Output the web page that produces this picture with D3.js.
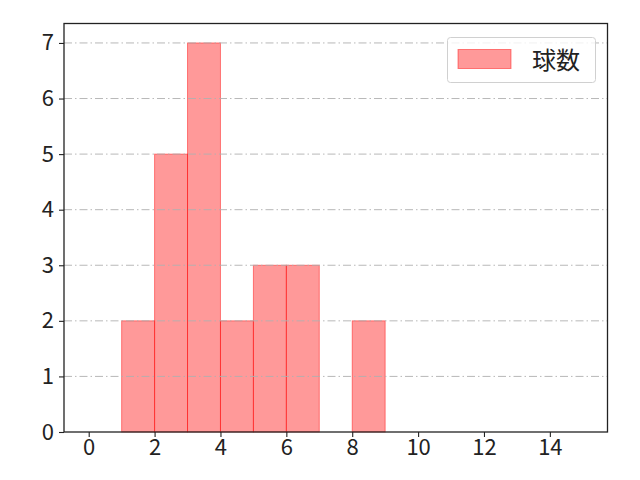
<!DOCTYPE html>
<html>
<head>
  <meta charset='utf-8'>
  <title>球数</title>
  <script src="https://cdnjs.cloudflare.com/ajax/libs/d3/7.8.5/d3.min.js"></script>
  <style>
    body { margin: 0; background: #fff; }
    text { font-family: "Noto Sans CJK JP", sans-serif; }
  </style>
</head>
<body>
  <svg width="640" height="480" id="chart"></svg>
  <script>
    // histogram bins and counts
    const binStarts = [1, 2, 3, 4, 5, 6, 8];
    const counts = [2, 5, 7, 2, 3, 3, 2];
    const xTicks = [0, 2, 4, 6, 8, 10, 12, 14];
    const yTicks = [0, 1, 2, 3, 4, 5, 6, 7];
    const seriesName = '球数';

    const margin = {top: 23.5, right: 32.5, bottom: 48, left: 64};
    const width = 640, height = 480;

    const svg = d3.select('#chart');

    const x = d3.scaleLinear().domain([-0.75, 15.75]).range([margin.left, width - margin.right]);
    const y = d3.scaleLinear().domain([0, 7.35]).range([height - margin.bottom, margin.top]);

    // bars
    svg.append('g')
      .selectAll('rect')
      .data(counts)
      .join('rect')
      .attr('x', (d, i) => x(binStarts[i]))
      .attr('width', (d, i) => x(binStarts[i] + 1) - x(binStarts[i]))
      .attr('y', d => y(d))
      .attr('height', d => y(0) - y(d))
      .attr('fill', 'rgba(255,0,0,0.4)')
      .attr('stroke', 'rgba(255,0,0,0.45)')
      .attr('stroke-width', 1);

    // grid (above bars, as in the original)
    svg.append('g')
      .selectAll('line')
      .data(yTicks.filter(d => d > 0))
      .join('line')
      .attr('x1', margin.left).attr('x2', width - margin.right)
      .attr('y1', d => y(d)).attr('y2', d => y(d))
      .attr('stroke', '#b0b0b0')
      .attr('stroke-width', 0.9)
      .attr('stroke-dasharray', '8,3,1.5,3');

    // axes
    const xAxis = svg.append('g')
      .attr('transform', `translate(0,${height - margin.bottom})`)
      .call(d3.axisBottom(x).tickValues(xTicks).tickSize(5).tickPadding(2).tickSizeOuter(0));
    const yAxis = svg.append('g')
      .attr('transform', `translate(${margin.left},0)`)
      .call(d3.axisLeft(y).tickValues(yTicks).tickSize(5).tickPadding(5).tickSizeOuter(0));

    [xAxis, yAxis].forEach(a => {
      a.select('.domain').remove();
      a.selectAll('line').attr('stroke', '#222').attr('stroke-width', 1.1);
      a.selectAll('text').attr('fill', '#222').style('font-size', '22px')
        .style('font-family', '"Noto Sans CJK JP", sans-serif');
    });

    // frame
    svg.append('rect')
      .attr('x', margin.left).attr('y', margin.top)
      .attr('width', width - margin.right - margin.left)
      .attr('height', height - margin.bottom - margin.top)
      .attr('fill', 'none')
      .attr('stroke', '#222')
      .attr('stroke-width', 1.3);

    // legend
    const lg = svg.append('g');
    lg.append('rect')
      .attr('x', 447.5).attr('y', 37.5).attr('width', 148).attr('height', 45)
      .attr('rx', 3)
      .attr('fill', 'rgba(255,255,255,0.8)')
      .attr('stroke', '#d0d0d0');
    lg.append('rect')
      .attr('x', 458).attr('y', 49.5).attr('width', 53).attr('height', 19)
      .attr('fill', 'rgba(255,0,0,0.4)')
      .attr('stroke', 'rgba(255,0,0,0.45)');
    lg.append('text')
      .attr('x', 532).attr('y', 68.5)
      .style('font-family', '"Noto Sans CJK JP", sans-serif')
      .style('font-size', '24px')
      .attr('fill', '#222')
      .text(seriesName);
  </script>
</body>
</html>
